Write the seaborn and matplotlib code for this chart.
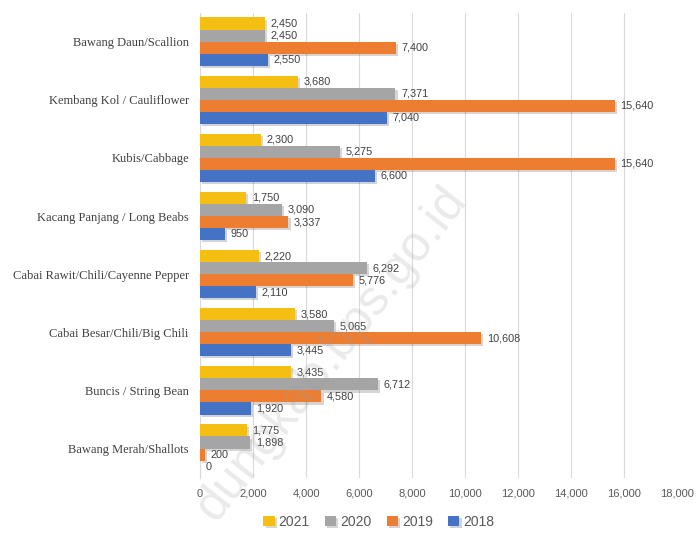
import matplotlib
matplotlib.use("Agg")
import matplotlib.pyplot as plt
import matplotlib.ticker as mtick
import matplotlib.patheffects as pe
import pandas as pd
import seaborn as sns

# Data (top to bottom)
komoditas = [
    "Bawang Daun/Scallion",
    "Kembang Kol / Cauliflower",
    "Kubis/Cabbage",
    "Kacang Panjang / Long Beabs",
    "Cabai Rawit/Chili/Cayenne Pepper",
    "Cabai Besar/Chili/Big Chili",
    "Buncis / String Bean",
    "Bawang Merah/Shallots",
]
tahun = ["2021", "2020", "2019", "2018"]
nilai_2021 = [2450, 3680, 2300, 1750, 2220, 3580, 3435, 1775]
nilai_2020 = [2450, 7371, 5275, 3090, 6292, 5065, 6712, 1898]
nilai_2019 = [7400, 15640, 15640, 3337, 5776, 10608, 4580, 200]
nilai_2018 = [2550, 7040, 6600, 950, 2110, 3445, 1920, 0]
warna = ["#F5BE12", "#A5A5A5", "#ED7D31", "#4472C4"]

df = pd.DataFrame({
    "komoditas": komoditas * 4,
    "tahun": [t for t in tahun for _ in komoditas],
    "nilai": nilai_2021 + nilai_2020 + nilai_2019 + nilai_2018,
})

sns.set_style("white")
fig = plt.figure(figsize=(6.98, 5.44), dpi=100)
ax = fig.add_axes([0.2865, 0.122, 0.684, 0.855])

sns.barplot(
    data=df, x="nilai", y="komoditas", hue="tahun",
    order=komoditas, hue_order=tahun, palette=warna, saturation=1,
    orient="h", width=0.83, linewidth=0, ax=ax, zorder=3,
)

# bayangan tipis seperti di grafik asli
for p in ax.patches:
    p.set_path_effects([pe.SimplePatchShadow(offset=(1.5, -1.5), alpha=0.2), pe.Normal()])

for cont in ax.containers:
    ax.bar_label(
        cont, labels=[f"{v:,.0f}" for v in cont.datavalues], padding=4,
        fontsize=7.8, color="#404040", family="Liberation Sans",
    )

ax.set_xlim(0, 18000)
ax.xaxis.set_major_locator(mtick.MultipleLocator(2000))
ax.xaxis.set_major_formatter(mtick.StrMethodFormatter("{x:,.0f}"))
ax.grid(axis="x", color="#D9D9D9", linewidth=0.8, zorder=0)
ax.set_axisbelow(True)
for s in ["top", "right", "bottom"]:
    ax.spines[s].set_visible(False)
ax.spines["left"].set_color("#D9D9D9")
ax.tick_params(axis="x", length=0, labelsize=8, labelcolor="#595959", pad=8)
ax.tick_params(axis="y", length=0, pad=8)
for lbl in ax.get_yticklabels():
    lbl.set_family("Liberation Serif")
    lbl.set_fontsize(9)
    lbl.set_color("#404040")
for lbl in ax.get_xticklabels():
    lbl.set_family("Liberation Sans")
ax.set_xlabel("")
ax.set_ylabel("")

ax.legend(
    loc="center", bbox_to_anchor=(0.375, -0.095), ncol=4, frameon=False,
    prop={"family": "Liberation Sans", "size": 10}, labelcolor="#595959",
    handlelength=0.8, handleheight=0.8, handletextpad=0.3, columnspacing=1.1,
)

# watermark
fig.text(0.476, 0.35, "dungkab.bps.go.id", rotation=52, fontsize=36, color="#A0A0A0",
         alpha=0.22, ha="center", va="center", family="Liberation Sans")

fig.savefig("out.png", dpi=100)
